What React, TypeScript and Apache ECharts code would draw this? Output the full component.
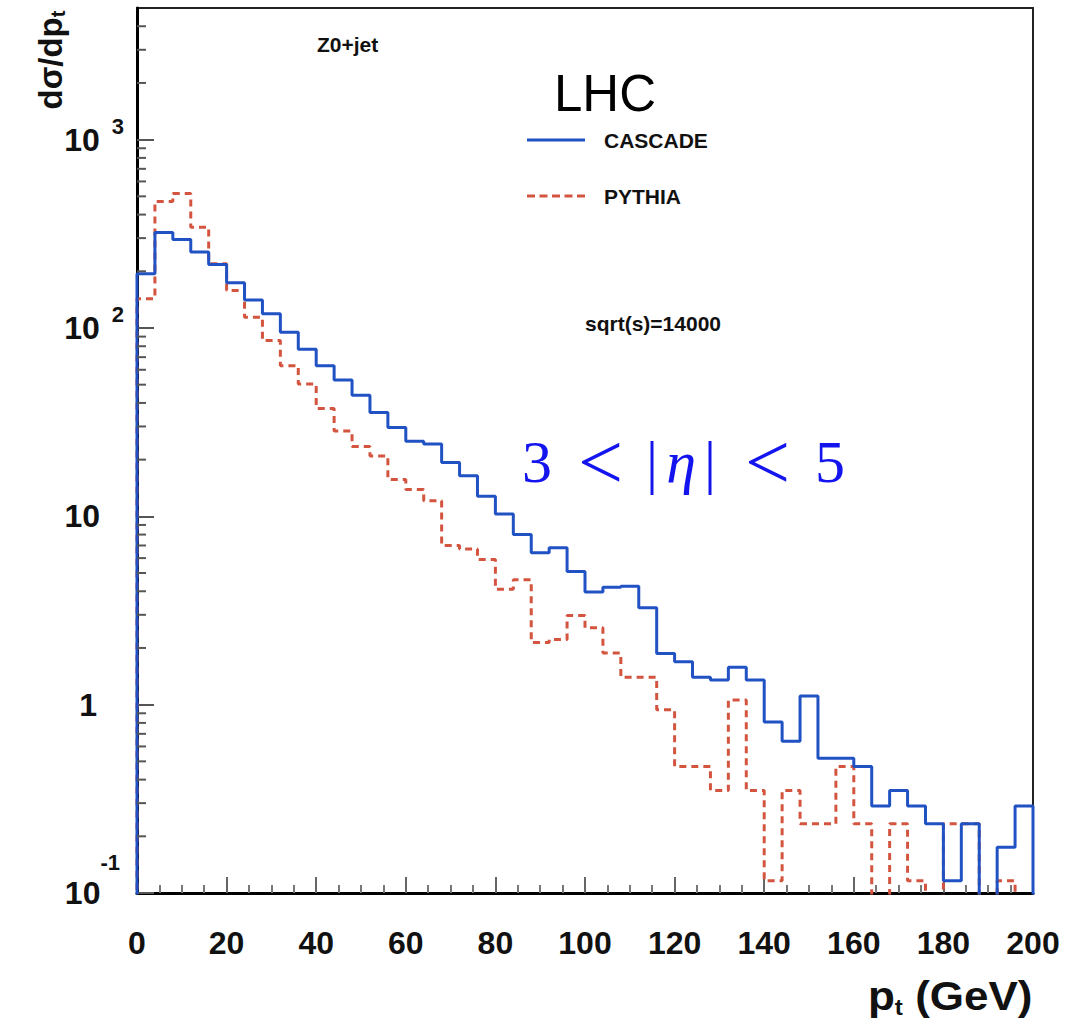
import React, { useEffect, useRef } from "react";
import * as echarts from "echarts";

// 50 bins of 4 GeV, 0..200 GeV
const binWidth = 4;
const cascade = [
  194, 321, 295, 253, 217, 174, 141, 119, 95, 77,
  63, 53, 44, 35.6, 29.6, 25, 24.2, 19.3, 16.4, 12.8,
  10.3, 8.0, 6.4, 6.8, 5.1, 3.96, 4.2, 4.25, 3.27, 1.87,
  1.69, 1.4, 1.35, 1.58, 1.35, 0.81, 0.64, 1.11, 0.52, 0.52,
  0.47, 0.29, 0.35, 0.29, 0.233, 0.116, 0.233, 0, 0.175, 0.29,
];
const pythia = [
  143, 470, 518, 343, 219, 158, 114, 85.7, 63, 50.4,
  37.4, 28.4, 23.5, 20.9, 15.7, 13.9, 12.1, 7.0, 6.7, 5.9,
  4.1, 4.6, 2.14, 2.22, 2.97, 2.56, 1.88, 1.4, 1.4, 0.94,
  0.47, 0.47, 0.35, 1.06, 0.35, 0.116, 0.35, 0.233, 0.233, 0.47,
  0.233, 0, 0.233, 0.116, 0, 0.233, 0.233, 0, 0.116, 0,
];
const seriesNames = ["CASCADE", "PYTHIA"];
const xTicks = [0, 20, 40, 60, 80, 100, 120, 140, 160, 180, 200];
const yMin = 0.1;
const yMax = 5000;
const floorValue = 0.05; // below the axis: empty bins
const yMinorMultipliers = [2, 3, 4, 5, 6, 7, 8, 9];
const yDecades = [-1, 0, 1, 2, 3];

const FONT = "'Liberation Sans', Arial, Helvetica, sans-serif";
const SERIF = "'Liberation Serif', 'DejaVu Serif', serif";
const BLUE = "#2152c4";
const RED = "#d4553f";

function histPoints(vals: number[]) {
  const pts: number[][] = [[0, floorValue]];
  vals.forEach((v, i) => {
    pts.push([i * binWidth, v > 0 ? v : floorValue]);
  });
  const last = vals[vals.length - 1];
  pts.push([vals.length * binWidth, last > 0 ? last : floorValue]);
  pts.push([vals.length * binWidth, floorValue]);
  return pts;
}

export default function App() {
  const ref = useRef<HTMLDivElement>(null);
  useEffect(() => {
    document.body.style.margin = "0";
    if (!ref.current) return;
    const chart = echarts.init(ref.current, undefined, { renderer: "svg" });

    const minorData: number[][] = [];
    yDecades.forEach((e) => {
      yMinorMultipliers.forEach((m) => {
        const v = m * Math.pow(10, e);
        if (v < yMax) minorData.push([0, v]);
      });
    });

    const option: any = {
      animation: false,
      backgroundColor: "#ffffff",
      grid: {
        left: 137,
        right: 42,
        top: 8,
        bottom: 129,
        show: true,
        borderColor: "#222",
        borderWidth: 2,
        backgroundColor: "transparent",
      },
      legend: {
        data: [
          { name: "CASCADE", icon: "path://M0,0H58V3H0Z" },
          {
            name: "PYTHIA",
            icon: "path://M0,0h8v3h-8z M12.5,0h8v3h-8z M25,0h8v3h-8z M37.5,0h8v3h-8z M50,0h8v3h-8z",
          },
        ],
        orient: "vertical",
        left: 527,
        top: 128,
        padding: 0,
        itemWidth: 58,
        itemHeight: 3,
        itemGap: 32,
        selectedMode: false,
        textStyle: {
          fontFamily: FONT,
          fontWeight: "bold",
          fontSize: 21,
          lineHeight: 24,
          color: "#111",
          padding: [0, 0, 0, 14],
        },
      },
      xAxis: {
        type: "value",
        min: xTicks[0],
        max: xTicks[xTicks.length - 1],
        interval: 20,
        axisLine: { show: true, onZero: false, lineStyle: { color: "#000", width: 3 } },
        axisTick: { show: true, inside: true, length: 16, lineStyle: { color: "#666", width: 2 } },
        minorTick: { show: true, splitNumber: 4, length: 8, lineStyle: { color: "#777", width: 2 } },
        splitLine: { show: false },
        axisLabel: {
          margin: 34,
          fontFamily: FONT,
          fontWeight: "bold",
          fontSize: 32,
          color: "#111",
        },
      },
      yAxis: {
        type: "log",
        logBase: 10,
        min: yMin,
        max: yMax,
        axisLine: { show: true, onZero: false, lineStyle: { color: "#000", width: 3 } },
        axisTick: { show: true, inside: true, length: 17, lineStyle: { color: "#555", width: 2 } },
        splitLine: { show: false },
        axisLabel: {
          margin: 10,
          showMaxLabel: false,
          formatter: (v: number) => {
            const l = Math.log10(v);
            const e = Math.round(l);
            if (Math.abs(l - e) > 0.01) return "";
            if (e === 0) return "{b1|1}";
            if (e === 1) return "{b10|10}";
            if (e < 0) return "{bn|10}{n|" + e + "}";
            return "{bp|10}{p|" + e + "}";
          },
          rich: {
            b1: { fontFamily: FONT, fontWeight: "bold", fontSize: 32, color: "#111", padding: [0, 30, 0, 0] },
            b10: { fontFamily: FONT, fontWeight: "bold", fontSize: 32, color: "#111", padding: [0, 27, 0, 0] },
            bp: { fontFamily: FONT, fontWeight: "bold", fontSize: 32, color: "#111", lineHeight: 48, verticalAlign: "middle" },
            p: { fontFamily: FONT, fontWeight: "bold", fontSize: 22, color: "#111", lineHeight: 22, verticalAlign: "top", padding: [0, 3, 0, 12] },
            bn: { fontFamily: FONT, fontWeight: "bold", fontSize: 32, color: "#111", lineHeight: 84, verticalAlign: "middle" },
            n: { fontFamily: FONT, fontWeight: "bold", fontSize: 22, color: "#111", lineHeight: 22, verticalAlign: "top", padding: [0, 7, 0, 0] },
          },
        },
      },
      series: [
        {
          name: "PYTHIA",
          type: "line",
          step: "end",
          data: histPoints(pythia),
          symbol: "none",
          showSymbol: false,
          clip: true,
          lineStyle: { color: RED, width: 3, type: [7, 5] },
          itemStyle: { color: RED },
          emphasis: { disabled: true },
          silent: true,
          z: 3,
        },
        {
          name: "CASCADE",
          type: "line",
          step: "end",
          data: histPoints(cascade),
          symbol: "none",
          showSymbol: false,
          clip: true,
          lineStyle: { color: BLUE, width: 3 },
          itemStyle: { color: BLUE },
          emphasis: { disabled: true },
          silent: true,
          z: 4,
        },
        {
          name: "minorTicks",
          type: "custom",
          data: minorData,
          silent: true,
          z: 5,
          renderItem: (params: any, api: any) => {
            const p = api.coord([0, api.value(1)]);
            return {
              type: "line",
              shape: { x1: p[0], y1: p[1], x2: p[0] + 9, y2: p[1] },
              style: { stroke: "#555", lineWidth: 2 },
            };
          },
        },
      ],
      graphic: [
        {
          type: "text",
          x: 50,
          y: 60,
          rotation: Math.PI / 2,
          style: {
            text: "{m|dσ/dp}{s|t}",
            align: "center",
            verticalAlign: "middle",
            rich: {
              m: { fontFamily: FONT, fontWeight: "bold", fontSize: 33, fill: "#111", lineHeight: 36, verticalAlign: "middle" },
              s: { fontFamily: FONT, fontWeight: "bold", fontSize: 20, fill: "#111", lineHeight: 20, verticalAlign: "bottom" },
            },
          },
        },
        {
          type: "text",
          x: 868,
          y: 996,
          scaleX: 1.1,
          style: {
            text: "{m|p}{s|t}{m| (GeV)}",
            align: "left",
            verticalAlign: "middle",
            rich: {
              m: { fontFamily: FONT, fontWeight: "bold", fontSize: 40, fill: "#111", lineHeight: 44, verticalAlign: "middle" },
              s: { fontFamily: FONT, fontWeight: "bold", fontSize: 22, fill: "#111", lineHeight: 22, verticalAlign: "bottom" },
            },
          },
        },
        {
          type: "text",
          x: 317,
          y: 44,
          style: { text: "Z0+jet", fontFamily: FONT, fontWeight: "bold", fontSize: 21, fill: "#111", verticalAlign: "middle" },
        },
        {
          type: "text",
          x: 554,
          y: 93,
          style: { text: "LHC", fontFamily: FONT, fontSize: 51, fill: "#000", verticalAlign: "middle" },
        },
        {
          type: "text",
          x: 585,
          y: 323,
          style: { text: "sqrt(s)=14000", fontFamily: FONT, fontWeight: "bold", fontSize: 21, fill: "#111", verticalAlign: "middle" },
        },
        {
          type: "text",
          x: 522,
          y: 462,
          style: {
            text: "{d1|3}{lt1|<}{bar1||}{eta|η}{bar2||}{lt2|<}{d2|5}",
            verticalAlign: "middle",
            rich: {
              d1: { fontFamily: SERIF, fontSize: 60, fill: "#1414ee", padding: [0, 26, 0, 0] },
              lt1: { fontFamily: SERIF, fontSize: 80, fill: "#1414ee", padding: [0, 23, 0, 0] },
              bar1: { fontFamily: SERIF, fontSize: 60, fill: "#1414ee", padding: [0, 8, 0, 0] },
              eta: { fontFamily: SERIF, fontStyle: "italic", fontSize: 60, fill: "#1414ee", padding: [0, 8, 0, 0] },
              bar2: { fontFamily: SERIF, fontSize: 60, fill: "#1414ee", padding: [0, 29, 0, 0] },
              lt2: { fontFamily: SERIF, fontSize: 80, fill: "#1414ee", padding: [0, 25, 0, 0] },
              d2: { fontFamily: SERIF, fontSize: 60, fill: "#1414ee" },
            },
          },
        },
      ],
    };
    chart.setOption(option);
    return () => chart.dispose();
  }, []);
  return (
    <div
      ref={ref}
      style={{ position: "absolute", left: 0, top: 0, width: 1075, height: 1022, background: "#fff" }}
    />
  );
}
